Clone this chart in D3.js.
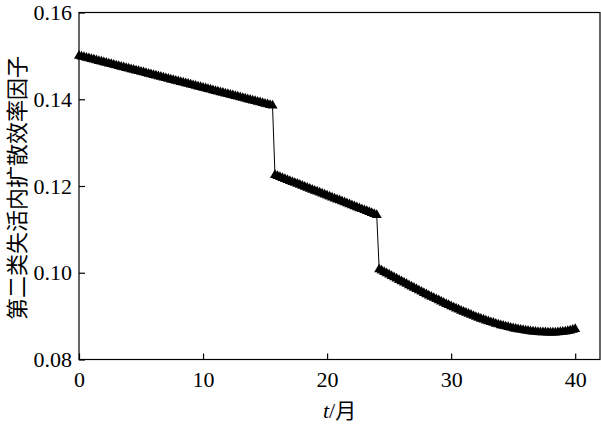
<!DOCTYPE html>
<html>
<head>
<meta charset="utf-8">
<script src="https://cdn.jsdelivr.net/npm/d3@7"></script>
<style>
  html, body { margin: 0; padding: 0; background: #fff; }
  svg { display: block; }
</style>
</head>
<body>
<svg id="chart" width="601" height="427"></svg>
<script>
// ---- data ----
const timeStep = 0.2;                 // months between successive computed points
const segmentStarts = [0, 15.8, 24.2]; // first month of each segment
const segment1 = [
  0.15000,0.14985,0.14971,0.14956,0.14941,0.14926,0.14912,0.14897,0.14882,0.14868,
  0.14853,0.14838,0.14824,0.14809,0.14794,0.14779,0.14765,0.14750,0.14735,0.14721,
  0.14706,0.14691,0.14677,0.14662,0.14647,0.14632,0.14618,0.14603,0.14588,0.14574,
  0.14559,0.14544,0.14530,0.14515,0.14500,0.14485,0.14471,0.14456,0.14441,0.14427,
  0.14412,0.14397,0.14383,0.14368,0.14353,0.14338,0.14324,0.14309,0.14294,0.14280,
  0.14265,0.14250,0.14236,0.14221,0.14206,0.14191,0.14177,0.14162,0.14147,0.14133,
  0.14118,0.14103,0.14089,0.14074,0.14059,0.14044,0.14030,0.14015,0.14000,0.13986,
  0.13971,0.13956,0.13942,0.13927,0.13912,0.13897,0.13883,0.13868,0.13853
];
const segment2 = [
  0.12250,0.12228,0.12205,0.12183,0.12160,0.12138,0.12115,0.12093,0.12070,0.12048,
  0.12026,0.12003,0.11981,0.11958,0.11936,0.11913,0.11891,0.11869,0.11846,0.11824,
  0.11801,0.11779,0.11756,0.11734,0.11712,0.11689,0.11667,0.11644,0.11622,0.11599,
  0.11577,0.11555,0.11532,0.11510,0.11487,0.11465,0.11442,0.11420,0.11398,0.11375,
  0.11353,0.11330
];
const segment3 = [
  0.10080,0.10049,0.10018,0.09987,0.09956,0.09925,0.09894,0.09864,0.09833,0.09802,
  0.09772,0.09742,0.09711,0.09681,0.09651,0.09621,0.09592,0.09563,0.09533,0.09504,
  0.09476,0.09447,0.09419,0.09390,0.09362,0.09335,0.09308,0.09280,0.09253,0.09226,
  0.09200,0.09175,0.09149,0.09124,0.09098,0.09075,0.09051,0.09028,0.09004,0.08981,
  0.08960,0.08940,0.08919,0.08899,0.08878,0.08860,0.08843,0.08825,0.08808,0.08790,
  0.08776,0.08762,0.08747,0.08733,0.08719,0.08708,0.08698,0.08687,0.08677,0.08666,
  0.08659,0.08652,0.08646,0.08639,0.08632,0.08629,0.08627,0.08625,0.08622,0.08620,
  0.08621,0.08623,0.08626,0.08632,0.08638,0.08646,0.08656,0.08668,0.08683,0.08700
];
const xTicks = [0, 10, 20, 30, 40];
const yTicks = [0.08, 0.10, 0.12, 0.14, 0.16];
const xLabel = "月";
const xLabelVar = "t";
const yLabel = "第二类失活内扩散效率因子";

(function draw() {
  const SERIF = "'Times New Roman', Times, 'Liberation Serif', Tinos, 'DejaVu Serif', 'Noto Serif', 'Noto Serif CJK SC', serif";
  const CJK = "'Noto Sans CJK SC', sans-serif";

  // ---- build points ----
  const segments = [segment1, segment2, segment3];
  const points = [];
  segments.forEach((seg, s) => {
    seg.forEach((v, i) => {
      points.push({ t: +(segmentStarts[s] + i * timeStep).toFixed(2), v: v });
    });
  });

  // ---- layout ----
  const svg = d3.select("#chart");
  const pL = 79, pR = 600, pT = 12.5, pB = 359.5;

  const x = d3.scaleLinear().domain([0, 42]).range([pL, pR]);
  const y = d3.scaleLinear().domain([0.08, 0.16]).range([pB, pT]);

  // frame
  svg.append("rect")
    .attr("x", pL).attr("y", pT)
    .attr("width", pR - pL).attr("height", pB - pT)
    .attr("fill", "none").attr("stroke", "#000").attr("stroke-width", 1.2);

  // x axis (ticks inward)
  const xAxis = d3.axisBottom(x).tickValues(xTicks).tickSizeInner(-6).tickSizeOuter(0)
    .tickPadding(12).tickFormat(d3.format("d"));
  const gx = svg.append("g").attr("transform", `translate(0,${pB})`).call(xAxis)
    .attr("font-family", SERIF).attr("font-size", 22);
  gx.select(".domain").remove();
  gx.selectAll("line").attr("stroke", "#000").attr("stroke-width", 1.2);
  gx.selectAll("text").style("font-family", SERIF).style("font-size", "22px").attr("fill", "#000");

  // y axis (ticks inward)
  const yAxis = d3.axisLeft(y).tickValues(yTicks).tickSizeInner(-6).tickSizeOuter(0)
    .tickPadding(7).tickFormat(d3.format(".2f"));
  const gy = svg.append("g").attr("transform", `translate(${pL},0)`).call(yAxis)
    .attr("font-family", SERIF).attr("font-size", 22);
  gy.select(".domain").remove();
  gy.selectAll("line").attr("stroke", "#000").attr("stroke-width", 1.2);
  gy.selectAll("text").style("font-family", SERIF).style("font-size", "22px").attr("fill", "#000");

  // connecting line
  const line = d3.line().x(d => x(d.t)).y(d => y(d.v));
  svg.append("path").datum(points)
    .attr("d", line).attr("fill", "none")
    .attr("stroke", "#000").attr("stroke-width", 1);

  // triangle markers
  const tri = d3.symbol().type(d3.symbolTriangle).size(44);
  svg.append("g").selectAll("path").data(points).join("path")
    .attr("transform", d => `translate(${x(d.t)},${y(d.v)})`)
    .attr("d", tri)
    .attr("fill", "#000");

  // x label
  const xl = svg.append("text")
    .attr("x", (pL + pR) / 2).attr("y", 418)
    .attr("text-anchor", "middle")
    .style("font-size", "22px").attr("fill", "#000");
  xl.append("tspan").style("font-family", SERIF).style("font-style", "italic").text(xLabelVar);
  xl.append("tspan").style("font-family", SERIF).text("/");
  xl.append("tspan").style("font-family", CJK).style("font-size", "21px").text(xLabel);

  // y label
  svg.append("text")
    .attr("transform", `translate(25,${(pT + pB) / 2 + 2}) rotate(-90)`)
    .attr("text-anchor", "middle")
    .style("font-family", CJK)
    .style("font-size", "22px").attr("fill", "#000")
    .text(yLabel);
})();
</script>
</body>
</html>
